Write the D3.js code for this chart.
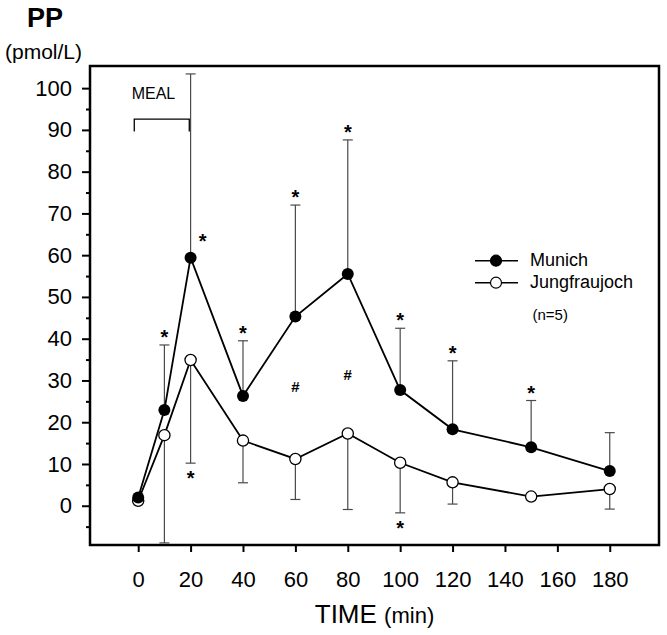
<!DOCTYPE html>
<html>
<head>
<meta charset="utf-8">
<script src="https://cdn.jsdelivr.net/npm/d3@7"></script>
<style>
  html, body { margin: 0; padding: 0; background: #fff; }
  svg { display: block; font-family: "Liberation Sans", Arial, Helvetica, sans-serif; }
</style>
</head>
<body>
<svg id="chart" width="667" height="635"></svg>
<script>
// ---- data ----
const times = [0, 10, 20, 40, 60, 80, 100, 120, 150, 180];
const munich = [2.0, 22.9, 59.4, 26.3, 45.3, 55.5, 27.7, 18.3, 14.0, 8.3];
const munichErr = [0, 15.6, 44.0, 13.2, 26.7, 32.1, 14.8, 16.4, 11.2, 9.2];      // upper bars
const jungfraujoch = [1.2, 16.9, 34.9, 15.6, 11.2, 17.3, 10.3, 5.6, 2.2, 4.0];
const jungfraujochErr = [0, 25.8, 24.7, 10.1, 9.7, 18.2, 12.0, 5.2, 0, 4.8];     // lower bars
const seriesNames = ["Munich", "Jungfraujoch"];
const xTicks = [0, 20, 40, 60, 80, 100, 120, 140, 160, 180];
const yTicks = [0, 10, 20, 30, 40, 50, 60, 70, 80, 90, 100];
const yMinorTicks = [-5, 5, 15, 25, 35, 45, 55, 65, 75, 85, 95];
const munichStarTimes = [10, 40, 60, 80, 100, 120, 150];   // * above Munich bar
const munichSideStarTimes = [20];                            // * beside Munich point
const jungStarTimes = [20, 100];                             // * below Jungfraujoch bar
const hashTimes = [60, 80];
const hashValues = [28.5, 31.3];
const mealStart = -1.5, mealEnd = 19.5, mealTop = 92.6, mealBottom = 89.6;

// ---- layout ----
const svg = d3.select("#chart");
const L = 90, R = 659, T = 66, B = 545;
const x = d3.scaleLinear().domain([-18.4, 198.8]).range([L, R]);
const y = d3.scaleLinear().domain([-9.4, 105.3]).range([B, T]);
const font = '"Liberation Sans", Arial, Helvetica, sans-serif';

// axes
const yAxis = svg.append("g").attr("transform", `translate(${L},0)`)
  .call(d3.axisLeft(y).tickValues(yTicks).tickSize(8).tickPadding(10).tickFormat(d3.format("d")));
const yMinor = svg.append("g").attr("transform", `translate(${L},0)`)
  .call(d3.axisLeft(y).tickValues(yMinorTicks).tickSize(4).tickFormat(""));
const xAxis = svg.append("g").attr("transform", `translate(0,${B})`)
  .call(d3.axisBottom(x).tickValues(xTicks).tickSize(7).tickPadding(19).tickFormat(d3.format("d")));
[yAxis, yMinor, xAxis].forEach(g => {
  g.select(".domain").remove();
  g.selectAll(".tick line").attr("stroke", "#000").attr("stroke-width", 2);
  g.selectAll(".tick text").attr("font-family", font).attr("font-size", 22).attr("fill", "#000");
});

// frame
svg.append("rect").attr("x", L).attr("y", T).attr("width", R - L).attr("height", B - T)
  .attr("fill", "none").attr("stroke", "#000").attr("stroke-width", 2.5);

// error bars
const cap = 5;
const errG = svg.append("g").attr("stroke", "#4a4a4a").attr("stroke-width", 1.2).attr("fill", "none");
times.forEach((t, i) => {
  if (munichErr[i] > 0) {
    const tip = munich[i] + munichErr[i];
    errG.append("line").attr("x1", x(t)).attr("x2", x(t)).attr("y1", y(munich[i])).attr("y2", y(tip));
    errG.append("line").attr("x1", x(t) - cap).attr("x2", x(t) + cap).attr("y1", y(tip)).attr("y2", y(tip));
  }
  if (jungfraujochErr[i] > 0) {
    const tip = jungfraujoch[i] - jungfraujochErr[i];
    errG.append("line").attr("x1", x(t)).attr("x2", x(t)).attr("y1", y(jungfraujoch[i])).attr("y2", y(tip));
    errG.append("line").attr("x1", x(t) - cap).attr("x2", x(t) + cap).attr("y1", y(tip)).attr("y2", y(tip));
  }
});

// lines
const line = d3.line().x(d => x(d[0])).y(d => y(d[1]));
svg.append("path").datum(times.map((t, i) => [t, munich[i]]))
  .attr("d", line).attr("fill", "none").attr("stroke", "#000").attr("stroke-width", 1.8);
svg.append("path").datum(times.map((t, i) => [t, jungfraujoch[i]]))
  .attr("d", line).attr("fill", "none").attr("stroke", "#000").attr("stroke-width", 1.8);

// points
svg.append("g").selectAll("circle").data(times.map((t, i) => [t, jungfraujoch[i]])).join("circle")
  .attr("cx", d => x(d[0])).attr("cy", d => y(d[1])).attr("r", 5.6)
  .attr("fill", "#fff").attr("stroke", "#000").attr("stroke-width", 1.3);
svg.append("g").selectAll("circle").data(times.map((t, i) => [t, munich[i]])).join("circle")
  .attr("cx", d => x(d[0])).attr("cy", d => y(d[1])).attr("r", 6)
  .attr("fill", "#000");

// significance marks
const starSize = 20;
function star(px, cy) {
  svg.append("text").attr("x", px).attr("y", cy + 0.56 * starSize).attr("text-anchor", "middle")
    .attr("font-family", font).attr("font-size", starSize).attr("font-weight", "bold").text("*");
}
munichStarTimes.forEach(t => {
  const i = times.indexOf(t);
  star(x(t), y(munich[i] + munichErr[i]) - 12);
});
munichSideStarTimes.forEach(t => {
  const i = times.indexOf(t);
  star(x(t) + 12, y(munich[i]) - 21);
});
jungStarTimes.forEach(t => {
  const i = times.indexOf(t);
  star(x(t), y(jungfraujoch[i] - jungfraujochErr[i]) + 11);
});
hashTimes.forEach((t, i) => {
  svg.append("text").attr("x", x(t)).attr("y", y(hashValues[i])).attr("dy", "0.36em")
    .attr("text-anchor", "middle").attr("font-family", font).attr("font-size", 15)
    .attr("font-weight", "bold").text("#");
});

// MEAL bracket
svg.append("path")
  .attr("d", `M${x(mealStart)},${y(mealBottom)}V${y(mealTop)}H${x(mealEnd)}V${y(mealBottom)}`)
  .attr("fill", "none").attr("stroke", "#000").attr("stroke-width", 1.3);
svg.append("text").attr("x", x(mealStart) - 2.6).attr("y", 99)
  .attr("font-family", font).attr("font-size", 16).text("MEAL");

// legend
const leg = [{ name: seriesNames[0], filled: true, ly: 260.7, ty: 266 },
             { name: seriesNames[1], filled: false, ly: 282.7, ty: 288.3 }];
leg.forEach(d => {
  svg.append("line").attr("x1", 475).attr("x2", 518).attr("y1", d.ly).attr("y2", d.ly)
    .attr("stroke", "#000").attr("stroke-width", 1.5);
  svg.append("circle").attr("cx", 496).attr("cy", d.ly).attr("r", 5.5)
    .attr("fill", d.filled ? "#000" : "#fff").attr("stroke", "#000").attr("stroke-width", 1.2);
  svg.append("text").attr("x", 530).attr("y", d.ty).attr("font-family", font)
    .attr("font-size", 18).text(d.name);
});
svg.append("text").attr("x", 532.5).attr("y", 319.5).attr("font-family", font)
  .attr("font-size", 15).text("(n=5)");

// titles
svg.append("text").attr("x", 27).attr("y", 27).attr("font-family", font)
  .attr("font-size", 27).attr("font-weight", "bold").text("PP");
svg.append("text").attr("x", 5).attr("y", 59).attr("font-family", font)
  .attr("font-size", 21).text("(pmol/L)");
const xt = svg.append("text").attr("x", (L + R) / 2).attr("y", 623).attr("text-anchor", "middle")
  .attr("font-family", font);
xt.append("tspan").attr("font-size", 26).text("TIME ");
xt.append("tspan").attr("font-size", 22).text("(min)");
</script>
</body>
</html>
